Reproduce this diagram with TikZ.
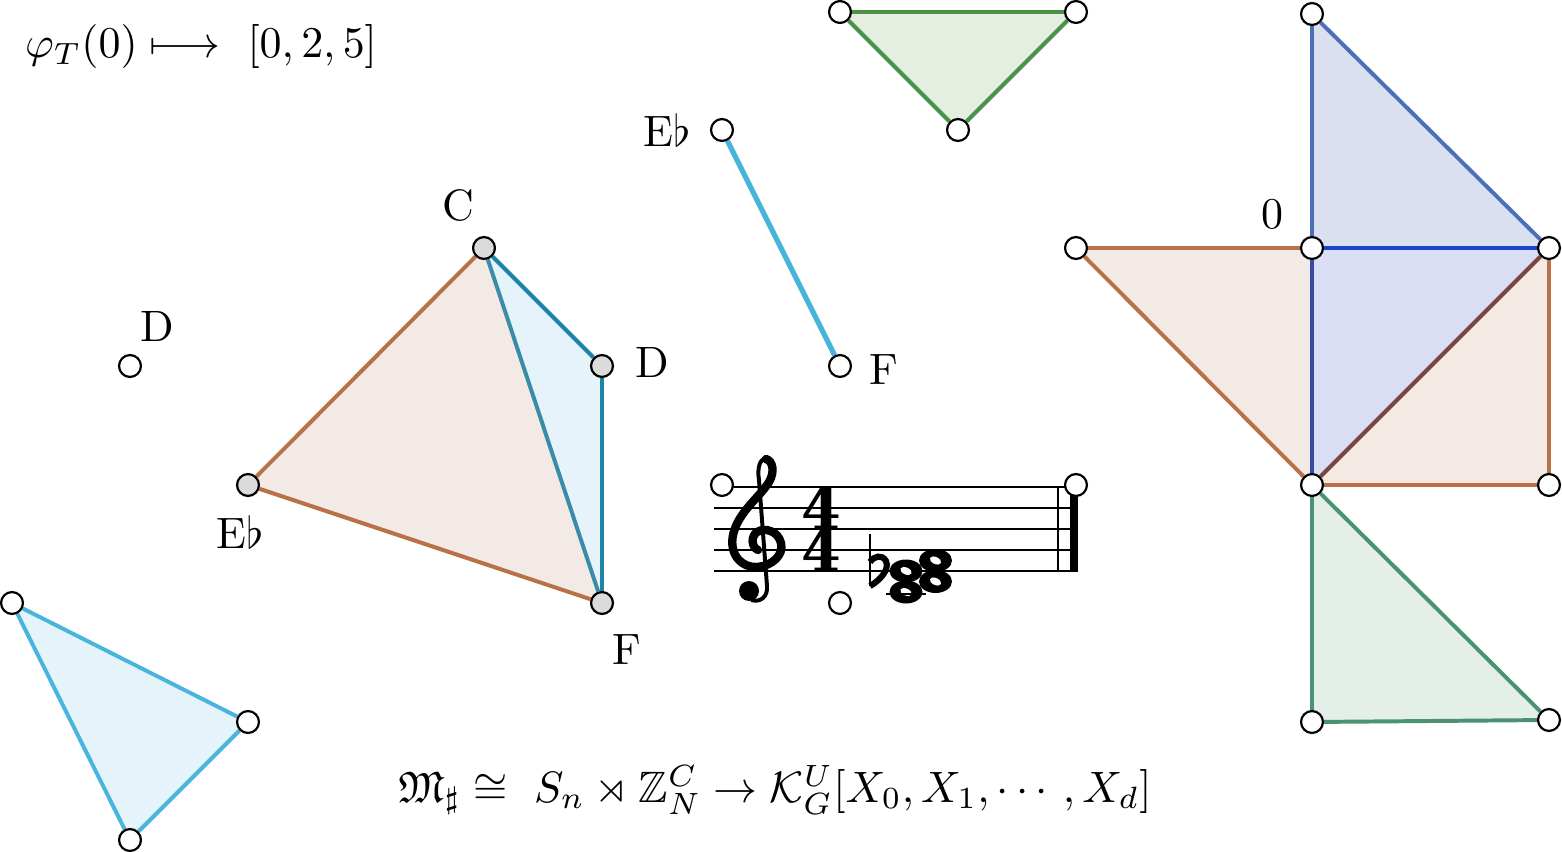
\documentclass[tikz,border=0pt]{standalone}
\usepackage{amsmath,amssymb}
\usepackage{fontspec}
\newfontfamily\metre{DejaVu Serif}
\usetikzlibrary{backgrounds}

\definecolor{rust}{RGB}{185,113,74}
\definecolor{rustfill}{RGB}{243,234,229}
\definecolor{petrol}{RGB}{31,131,165}
\definecolor{petrol2}{RGB}{58,139,167}
\definecolor{sky}{RGB}{75,180,220}
\definecolor{skyfill}{RGB}{229,244,250}
\definecolor{leaf}{RGB}{74,145,74}
\definecolor{leaffill}{RGB}{228,239,226}
\definecolor{sea}{RGB}{74,146,114}
\definecolor{seafill}{RGB}{227,239,232}
\definecolor{steel}{RGB}{75,111,184}
\definecolor{steelfill}{RGB}{218,224,240}
\definecolor{royal}{RGB}{26,69,201}
\definecolor{navy}{RGB}{58,74,163}
\definecolor{lavender}{RGB}{218,223,246}
\definecolor{plum}{RGB}{122,69,64}

\tikzset{
  vert/.style={circle, draw, fill=white, line width=.5pt, minimum size=.175cm, inner sep=0pt},
  gvert/.style={vert, fill=black!14},
  edge/.style={draw=#1, line width=.9pt},
  metrenum/.style={inner sep=0pt, font=\metre\bfseries\fontsize{13}{13}\selectfont},
}

\begin{document}
\begin{tikzpicture}[x=.008cm, y=-.008cm]
\useasboundingbox (0,0) rectangle (1562,852);

\node (phi) at (201,47) {$\varphi_T(0)\longmapsto\ [0,2,5]$};
\node (iso) at (775,790) {$\mathfrak{M}_\sharp\cong\ S_n\rtimes\mathbb{Z}_N^C\to\mathcal{K}_G^U[X_0,X_1,\cdots,X_d]$};

% lone D, and the Eb--F dyad
\node [vert] (d0) at (130,366) {};
\node (d0l) at (157,326) {D};
\node [vert] (e1) at (722,130) {};
\node (e1l) at (667,130) {E$\flat$};
\node [vert] (f1) at (840,366) {};
\node (f1l) at (884,370) {F};

% the tetrahedron C D Eb F
\node [gvert] (c) at (484,248) {};
\node [gvert] (d) at (602,366) {};
\node [gvert] (e) at (248,485) {};
\node [gvert] (f) at (602,603) {};
\node (cl) at (458,205) {C};
\node (dl) at (652,362) {D};
\node (el) at (240,532) {E$\flat$};
\node (fl) at (627,650) {F};

\node [vert] (t1) at (12,603) {};
\node [vert] (t2) at (248,722) {};
\node [vert] (t3) at (130,840) {};
\node [vert] (g1) at (840,12) {};
\node [vert] (g2) at (1076,12) {};
\node [vert] (g3) at (958,130) {};

% staff corners
\node [vert] (s1) at (722,485) {};
\node [vert] (s2) at (1076,485) {};
\node [vert] (s3) at (840,603) {};

% the complex on the right
\node [vert] (top) at (1312,14) {};
\node [vert] (o) at (1312,248) {};
\node (ol) at (1272,214) {0};
\node [vert] (r) at (1549,248) {};
\node [vert] (l) at (1076,248) {};
\node [vert] (m) at (1312,485) {};
\node [vert] (rb) at (1549,485) {};
\node [vert] (bl) at (1312,722) {};
\node [vert] (br) at (1549,720) {};

\begin{scope}[on background layer]
\fill [rustfill] (c.center) -- (e.center) -- (f.center) -- cycle;
\fill [skyfill] (c.center) -- (d.center) -- (f.center) -- cycle;
\fill [skyfill] (t1.center) -- (t2.center) -- (t3.center) -- cycle;
\fill [leaffill] (g1.center) -- (g2.center) -- (g3.center) -- cycle;
\fill [steelfill] (top.center) -- (o.center) -- (r.center) -- cycle;
\fill [lavender] (o.center) -- (r.center) -- (m.center) -- cycle;
\fill [rustfill] (l.center) -- (o.center) -- (m.center) -- cycle;
\fill [rustfill] (m.center) -- (r.center) -- (rb.center) -- cycle;
\fill [seafill] (m.center) -- (bl.center) -- (br.center) -- cycle;

\draw [edge=rust] (c) -- (e) -- (f);
\draw [edge=petrol] (c) -- (d) -- (f);
\draw [edge=petrol2] (c) -- (f);
\draw [edge=sky, line width=1.2pt] (e1) -- (f1);
\draw [edge=sky] (t1) -- (t2) -- (t3) -- (t1);
\draw [edge=leaf] (g1) -- (g2) -- (g3) -- (g1);
\draw [edge=steel] (top) -- (o);
\draw [edge=steel] (top) -- (r);
\draw [edge=royal] (o) -- (r);
\draw [edge=navy] (o) -- (m);
\draw [edge=plum] (r) -- (m);
\draw [edge=rust] (l) -- (o);
\draw [edge=rust] (l) -- (m);
\draw [edge=rust] (r) -- (rb) -- (m);
\draw [edge=sea] (m) -- (bl) -- (br) -- (m);

% staff
\foreach \y in {487,508,529,550,571}
  \draw [line width=.45pt] (714,\y) -- (1078,\y);
\draw [line width=.45pt] (1058,487) -- (1058,571);
\fill (1070,487) rectangle (1078,571);
\end{scope}

% treble clef
\draw [line width=.9pt] (751,600) .. controls (761,603) and (768,596) .. (767,586)
  -- (759,480) .. controls (757,468) and (760,458) .. (766,459);
\draw [line width=1.9pt, line cap=round] (766,459) .. controls (773,461) and (775,472) .. (769,482)
  .. controls (760,497) and (738,512) .. (733,535)
  .. controls (729,555) and (742,568) .. (757,567)
  .. controls (772,566) and (784,555) .. (781,543)
  .. controls (778,531) and (765,527) .. (757,532)
  .. controls (751,536) and (751,547) .. (758,550);
\fill (749,591) circle [radius=10];

\node [metrenum] (t4a) at (821,508) {4};
\node [metrenum] (t4b) at (821,550) {4};

% flat and chord
\draw [line width=.6pt] (870,534) -- (870,586);
\draw [line width=1.4pt] (870,586) .. controls (879,581) and (890,570) .. (886,561)
  .. controls (882,554) and (874,556) .. (870,562);
\foreach \x/\y in {906/592,906/571,935.5/581.5,935.5/560.5} {
  \fill (\x,\y) ellipse [x radius=16.5, y radius=11.5];
  \fill [white, rotate around={-25:(\x,\y)}] (\x,\y) ellipse [x radius=6, y radius=3.5];
}
\draw [line width=.45pt] (886,594) -- (926,594);
\end{tikzpicture}
\end{document}
